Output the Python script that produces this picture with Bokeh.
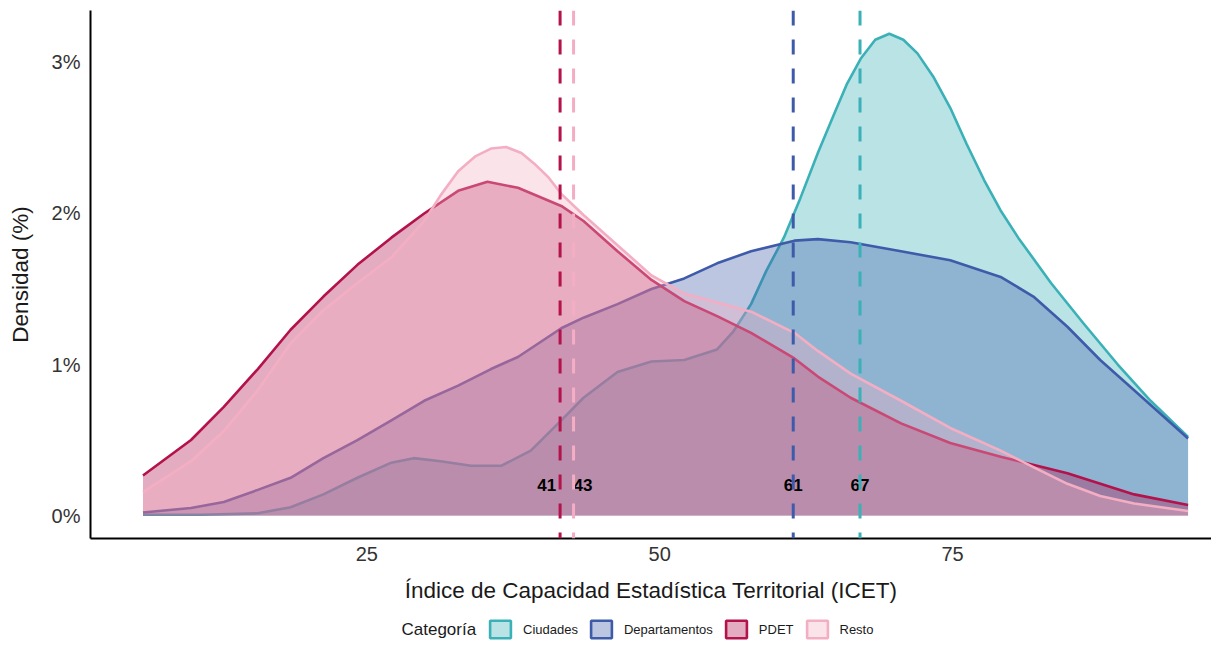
from bokeh.plotting import figure
from bokeh.layouts import column
from bokeh.models import (Range1d, FixedTicker, PrintfTickFormatter, Span, Legend,
                          LegendItem, ColumnDataSource)
from bokeh.core.properties import value
from bokeh.embed import file_html
from bokeh.resources import INLINE

# ---- data ----
x_ciudades = [5.9, 10.9, 15.7, 18.5, 21.3, 24.2, 27.1, 29.0, 31.3, 33.9, 36.5, 39.0,
              41.6, 43.5, 46.4, 49.3, 52.1, 54.9, 56.3, 57.8, 59.1, 60.6, 62.0, 63.5,
              64.9, 66.0, 67.2, 68.4, 69.6, 70.8, 72.0, 73.4, 74.8, 76.2, 77.7, 79.1,
              80.6, 83.4, 86.2, 89.1, 91.9, 95.1]
ciudades = [0.005, 0.005, 0.015, 0.055, 0.14, 0.25, 0.35, 0.38, 0.36, 0.33, 0.33,
            0.43, 0.63, 0.78, 0.95, 1.02, 1.03, 1.10, 1.22, 1.40, 1.62, 1.84, 2.10,
            2.40, 2.66, 2.86, 3.03, 3.15, 3.19, 3.15, 3.06, 2.90, 2.70, 2.46, 2.22,
            2.02, 1.84, 1.54, 1.27, 1.00, 0.76, 0.52]

x_departamentos = [5.9, 10.0, 12.8, 15.7, 18.5, 21.3, 24.2, 27.1, 29.9, 32.8, 35.6,
                   37.9, 41.6, 43.5, 46.4, 49.3, 52.1, 54.9, 57.8, 61.5, 63.5, 66.3,
                   70.6, 74.8, 79.1, 81.9, 84.8, 87.6, 90.5, 95.1]
departamentos = [0.02, 0.05, 0.09, 0.17, 0.25, 0.38, 0.50, 0.63, 0.76, 0.86, 0.97,
                 1.05, 1.24, 1.31, 1.40, 1.50, 1.57, 1.67, 1.75, 1.82, 1.83, 1.81,
                 1.75, 1.69, 1.58, 1.45, 1.25, 1.03, 0.83, 0.51]

x_pdet = [5.9, 10.0, 12.8, 15.7, 18.5, 21.3, 24.2, 27.1, 29.9, 32.8, 35.3, 37.9,
          41.6, 43.5, 46.4, 49.3, 52.1, 54.9, 57.8, 61.5, 63.5, 66.3, 70.6, 74.8,
          79.1, 84.8, 90.5, 95.1]
pdet = [0.265, 0.50, 0.72, 0.97, 1.23, 1.45, 1.66, 1.84, 2.00, 2.15, 2.21, 2.17,
        2.05, 1.95, 1.75, 1.56, 1.42, 1.32, 1.21, 1.04, 0.92, 0.78, 0.61, 0.48,
        0.39, 0.28, 0.14, 0.07]

x_resto = [5.9, 10.0, 12.8, 15.7, 18.5, 21.3, 24.2, 27.1, 29.9, 31.3, 32.8, 34.3,
           35.6, 36.9, 38.2, 39.3, 40.5, 41.6, 43.5, 46.4, 49.3, 52.1, 54.9, 57.8,
           61.5, 63.5, 66.3, 70.6, 74.8, 79.1, 81.9, 84.8, 87.6, 90.5, 95.1]
resto = [0.155, 0.36, 0.56, 0.83, 1.14, 1.36, 1.54, 1.71, 1.95, 2.12, 2.28, 2.38,
         2.43, 2.44, 2.40, 2.33, 2.24, 2.13, 1.99, 1.79, 1.59, 1.47, 1.41, 1.35,
         1.21, 1.09, 0.94, 0.76, 0.58, 0.43, 0.32, 0.21, 0.13, 0.08, 0.03]

categorias = ["Ciudades", "Departamentos", "PDET", "Resto"]
series_x = [x_ciudades, x_departamentos, x_pdet, x_resto]
series_y = [ciudades, departamentos, pdet, resto]
colores = ["#3AB0B7", "#3E5BA9", "#B3124B", "#F4AEC3"]

medias = [67.1, 61.4, 41.5, 42.65]
etiquetas = ["67", "61", "41", "43"]
alineacion = ["center", "center", "right", "left"]
desplaz = [0, 0, -4, 0]

y_ticks = [0, 1, 2, 3]
x_ticks = [25, 50, 75]

FONT = "Liberation Sans"
W = 1211
FRAME_LEFT = 90

p = figure(width=W, height=616, output_backend="svg", toolbar_location=None,
           x_range=Range1d(1.42, 97.1), y_range=Range1d(-0.152, 3.344),
           min_border_top=10, min_border_right=0, min_border_left=FRAME_LEFT,
           min_border_bottom=78)
p.outline_line_color = None
p.xgrid.visible = False
p.ygrid.visible = False

for xs, vals, col in zip(series_x, series_y, colores):
    src = ColumnDataSource(dict(x=xs, y=vals))
    p.varea(x="x", y1=0, y2="y", source=src, fill_color=col, fill_alpha=0.35)
    p.line(x="x", y="y", source=src, line_color=col, line_width=2.6,
           line_join="round")

for m, col in zip(medias, colores):
    p.add_layout(Span(location=m, dimension="height", line_color=col,
                      line_width=3, line_dash="15 14"))

lab_src = ColumnDataSource(dict(x=medias, text=etiquetas, align=alineacion, dx=desplaz))
p.text(x="x", y=0.2, text="text", source=lab_src, text_align="align",
       x_offset="dx", text_baseline="middle", text_font=value(FONT),
       text_font_style="bold", text_font_size="17px", text_color="black")

# axes
p.xaxis.ticker = FixedTicker(ticks=x_ticks)
p.yaxis.ticker = FixedTicker(ticks=y_ticks)
p.yaxis.formatter = PrintfTickFormatter(format="%d%%")
for ax in (p.xaxis, p.yaxis):
    ax.axis_line_color = "black"
    ax.axis_line_width = 2
    ax.major_tick_line_color = None
    ax.minor_tick_line_color = None
    ax.major_tick_out = 0
    ax.major_tick_in = 0
    ax.minor_tick_out = 0
    ax.minor_tick_in = 0
    ax.major_label_text_font = FONT
    ax.major_label_text_font_size = "20px"
    ax.major_label_text_color = "#333333"
    ax.axis_label_text_font = FONT
    ax.axis_label_text_font_size = "22.5px"
    ax.axis_label_text_font_style = "normal"
    ax.axis_label_text_color = "#1a1a1a"
p.xaxis.axis_label = "Índice de Capacidad Estadística Territorial (ICET)"
p.yaxis.axis_label = "Densidad (%)"
p.xaxis.major_label_standoff = 8
p.xaxis.axis_label_standoff = 14
p.yaxis.major_label_standoff = 10
p.yaxis.axis_label_standoff = 16

# ---- legend row (separate strip; its frame is aligned with the main frame) ----
LH = 26
lf = figure(width=W, height=LH, output_backend="svg", toolbar_location=None,
            x_range=Range1d(FRAME_LEFT, W), y_range=Range1d(0, LH),
            x_axis_location=None, y_axis_location=None,
            min_border=0, min_border_left=FRAME_LEFT, min_border_right=0,
            min_border_top=0, min_border_bottom=0)
lf.xgrid.visible = False
lf.ygrid.visible = False
lf.outline_line_color = None

lf.text(x=[401], y=[LH / 2], text=["Categoría"], text_font=value(FONT),
        text_font_size="17px", text_color="#1a1a1a", text_baseline="middle",
        text_align="left")

items = []
for cat, col in zip(categorias, colores):
    key = lf.quad(left=[0], right=[0], top=[0], bottom=[0], fill_color=col,
                  fill_alpha=0.35, line_color=col, line_width=2.6)
    key.visible = False
    items.append(LegendItem(label=cat, renderers=[key]))
leg = Legend(items=items, location=(487 - FRAME_LEFT, 2), orientation="horizontal",
             glyph_width=26, glyph_height=22, label_standoff=10, spacing=10,
             padding=0, margin=0, border_line_color=None, background_fill_alpha=0,
             label_text_font=FONT, label_text_font_size="13px",
             label_text_color="#1a1a1a", click_policy="none")
lf.add_layout(leg, "center")

layout = column(p, lf, spacing=0)
open("out.html", "w").write(file_html(layout, INLINE))
